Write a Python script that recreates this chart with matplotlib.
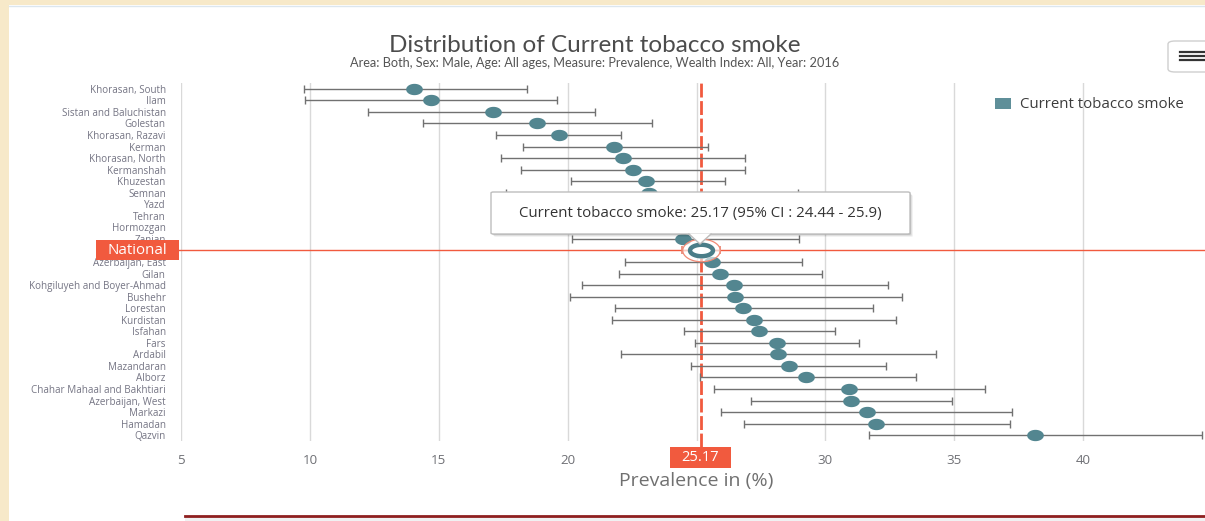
import numpy as np
import matplotlib
matplotlib.use("Agg")
import matplotlib.pyplot as plt
from matplotlib.path import Path
from matplotlib.patches import Rectangle, FancyBboxPatch, Polygon
from matplotlib.lines import Line2D

# ---- data -------------------------------------------------------------
provinces = ["Khorasan, South", "Ilam", "Sistan and Baluchistan", "Golestan",
             "Khorasan, Razavi", "Kerman", "Khorasan, North", "Kermanshah",
             "Khuzestan", "Semnan", "Yazd", "Tehran", "Hormozgan", "Zanjan",
             "National", "Azerbaijan, East", "Gilan",
             "Kohgiluyeh and Boyer-Ahmad", "Bushehr", "Lorestan", "Kurdistan",
             "Isfahan", "Fars", "Ardabil", "Mazandaran", "Alborz",
             "Chahar Mahaal and Bakhtiari", "Azerbaijan, West", "Markazi",
             "Hamadan", "Qazvin"]
prevalence = [14.04, 14.70, 17.10, 18.80, 19.65, 21.81, 22.15, 22.55, 23.06,
              23.15, 23.50, 23.80, 24.20, 24.47, 25.17, 25.62, 25.93, 26.46,
              26.50, 26.81, 27.23, 27.43, 28.12, 28.17, 28.58, 29.24, 30.93,
              30.99, 31.61, 31.97, 38.13]
ci_low = [9.77, 9.81, 12.25, 14.39, 17.22, 18.27, 17.41, 18.20, 20.12, 17.60,
          19.00, 21.50, 18.50, 20.17, 24.44, 22.21, 22.00, 20.54, 20.08, 21.85,
          21.74, 24.50, 24.96, 22.09, 24.80, 25.13, 25.69, 27.11, 25.95, 26.84,
          31.69]
ci_high = [18.42, 19.60, 21.06, 23.27, 22.06, 25.43, 26.90, 26.90, 26.11, 28.93,
           28.50, 26.00, 29.50, 28.97, 25.90, 29.09, 29.88, 32.44, 32.99, 31.85,
           32.74, 30.39, 31.32, 34.29, 32.37, 33.52, 36.19, 34.90, 37.23, 37.16,
           44.60]
x_ticks = [5, 10, 15, 20, 25, 30, 35, 40, 45]
national_name = "National"
series_name = "Current tobacco smoke"
title = "Distribution of Current tobacco smoke"
subtitle = ("Area: Both, Sex: Male, Age: All ages, Measure: Prevalence, "
            "Wealth Index: All, Year: 2016")
x_label = "Prevalence in (%)"

# ---- styling ----------------------------------------------------------
W, H = 1205, 521
TEAL = "#538690"
RED = "#f15a3e"
FONT = ["Open Sans", "DejaVu Sans"]
plt.rcParams["font.family"] = FONT

fig = plt.figure(figsize=(W / 100, H / 100), dpi=100)
fig.patch.set_facecolor("white")


def fx(px):
    return px / W


def fy(py):
    return 1 - py / H


def frect(x0, y0, x1, y1, **kw):
    r = Rectangle((fx(x0), fy(y1)), fx(x1) - fx(x0), fy(y0) - fy(y1),
                  transform=fig.transFigure, **kw)
    fig.add_artist(r)
    return r


# page background around the chart panel
frect(0, 0, W, 5, facecolor="#f7e9c9", edgecolor="none", zorder=-5)
frect(0, 0, 9, H, facecolor="#f7e9c9", edgecolor="none", zorder=-5)
fig.add_artist(Line2D([fx(9), 1], [fy(5.5)] * 2, color="#dce6ee", lw=1,
                      transform=fig.transFigure, zorder=-4))
frect(185, 516, W, H, facecolor="#f0f1f2", edgecolor="none", zorder=-4)
fig.add_artist(Line2D([fx(185), 1], [fy(515.5)] * 2, color="#8e1f1f", lw=2,
                      transform=fig.transFigure, zorder=-3))

# ---- axes -------------------------------------------------------------
ax = fig.add_axes([fx(181), fy(441), fx(1212) - fx(181), fy(83) - fy(441)])
ax.set_facecolor("none")
n = len(provinces)
ypos = np.arange(n)
nat = provinces.index(national_name)
ax.set_xlim(x_ticks[0], x_ticks[-1])
ax.set_ylim(n - 0.5, -0.5)
for s in ax.spines.values():
    s.set_visible(False)
ax.set_xticks(x_ticks)
# the national value badge sits on top of the tick it falls next to
ax.set_xticklabels(["" if abs(t - prevalence[nat]) < 1 else str(t)
                    for t in x_ticks])
ax.tick_params(axis="x", length=0, pad=9, labelsize=9.6, labelcolor="#6f7075")
ax.grid(axis="x", color="#d9d9d9", lw=1)
ax.set_axisbelow(True)
ax.set_yticks(ypos)
ax.set_yticklabels([("" if p == national_name else p) for p in provinces])
ax.tick_params(axis="y", length=0, pad=11, labelsize=7.1, labelcolor="#757584")
ax.set_xlabel(x_label, fontsize=14, color="#707070", labelpad=4)

prev = np.array(prevalence)
lo = np.array(ci_low)
hi = np.array(ci_high)
others = [i for i in range(n) if i != nat]

# national reference lines
ax.axhline(nat, xmin=-0.003, xmax=1, color=RED, lw=1, clip_on=False, zorder=2)
ax.axvline(prevalence[nat], ymin=-0.017, ymax=1.005, color=RED, lw=2,
           linestyle=(0, (5, 1.3)), clip_on=False, zorder=2)

# confidence intervals
ax.errorbar(prev[others], ypos[others],
            xerr=[prev[others] - lo[others], hi[others] - prev[others]],
            fmt="none", ecolor="#717171", elinewidth=1, capsize=2.6,
            capthick=1, zorder=3, clip_on=False)
ax.errorbar([prev[nat]], [nat], xerr=[[prev[nat] - lo[nat]], [hi[nat] - prev[nat]]],
            fmt="none", ecolor="#e8826e", elinewidth=1, capsize=3, capthick=1.2,
            zorder=3)


def ellipse_marker(aspect):
    t = np.linspace(0, 2 * np.pi, 72)
    return Path(np.c_[np.cos(t), aspect * np.sin(t)], closed=True)


dot = ellipse_marker(0.68)
ring = ellipse_marker(0.5)
ax.plot(prev[others], ypos[others], linestyle="none", marker=dot,
        markersize=12, markerfacecolor=TEAL, markeredgecolor="none", zorder=4)
# highlighted national point
ax.plot([prev[nat]], [nat], linestyle="none", marker=ellipse_marker(0.6),
        markersize=27, markerfacecolor=(1, 1, 1, 0.6),
        markeredgecolor="#f08a76", markeredgewidth=0.9, zorder=5)
ax.plot([prev[nat]], [nat], linestyle="none", marker=ring, markersize=16.5,
        markerfacecolor="white", markeredgecolor="#4a7d88",
        markeredgewidth=3.2, zorder=6)

# ---- title & legend ---------------------------------------------------
fig.text(fx(595), fy(45), title, ha="center", va="center", fontsize=17.5,
         color="#4c4c4c", family=["Lato", "DejaVu Sans"])
fig.text(fx(595), fy(63.5), subtitle, ha="center", va="center", fontsize=9.2,
         color="#555555", family=["Lato", "DejaVu Sans"])

frect(995, 98, 1011, 109, facecolor="#5f8f99", edgecolor="none", zorder=10)
fig.text(fx(1020), fy(104), series_name, ha="left", va="center",
         fontsize=10.8, color="#3c3c3c", zorder=10)

# export menu button
fig.add_artist(FancyBboxPatch((fx(1168), fy(72)), fx(60), fy(41) - fy(72),
                              boxstyle="round,pad=0,rounding_size=0.006",
                              transform=fig.transFigure, facecolor="white",
                              edgecolor="#cfcfcf", lw=1, zorder=10))
for yy in (51.7, 56, 60.3):
    fig.add_artist(Line2D([fx(1180), fx(1204)], [fy(yy)] * 2, color="#333333",
                          lw=1.6, transform=fig.transFigure, zorder=11))

# ---- national labels --------------------------------------------------
frect(96, 240, 179, 260, facecolor=RED, edgecolor="none", zorder=10)
fig.text(fx(137), fy(250.5), national_name, ha="center", va="center",
         fontsize=10.8, color="white", zorder=11)
frect(670, 447, 731, 468, facecolor=RED, edgecolor="none", zorder=10)
fig.text(fx(700.5), fy(457.5), f"{prevalence[nat]:.2f}", ha="center",
         va="center", fontsize=10.5, color="white", zorder=11)

# ---- tooltip ----------------------------------------------------------
tx0, ty0, tx1, ty1 = 491, 192, 910, 234
for k, a in ((3, 0.05), (2, 0.08), (1, 0.12)):
    fig.add_artist(FancyBboxPatch((fx(tx0 + k), fy(ty1 + k)), fx(tx1 - tx0),
                                  fy(ty0) - fy(ty1),
                                  boxstyle="round,pad=0,rounding_size=0.002",
                                  transform=fig.transFigure,
                                  facecolor=(0, 0, 0, a), edgecolor="none",
                                  zorder=19))
fig.add_artist(FancyBboxPatch((fx(tx0), fy(ty1)), fx(tx1 - tx0),
                              fy(ty0) - fy(ty1),
                              boxstyle="round,pad=0,rounding_size=0.002",
                              transform=fig.transFigure, facecolor="white",
                              edgecolor="#bdbdbd", lw=1, zorder=20))
fig.add_artist(Polygon([[fx(689), fy(233.5)], [fx(711), fy(233.5)],
                        [fx(700), fy(244)]], closed=True,
                       transform=fig.transFigure, facecolor="white",
                       edgecolor="none", zorder=21))
fig.add_artist(Line2D([fx(689), fx(700), fx(711)], [fy(234), fy(244), fy(234)],
                      color="#bdbdbd", lw=1, transform=fig.transFigure,
                      zorder=21))
tip = (f"{series_name}: {prevalence[nat]:.2f} "
       f"(95% CI : {ci_low[nat]:.2f} - {ci_high[nat]:g})")
fig.text(fx(700), fy(213), tip, ha="center", va="center", fontsize=10.8,
         color="#333333", zorder=22)

fig.savefig("out.png", dpi=100)
